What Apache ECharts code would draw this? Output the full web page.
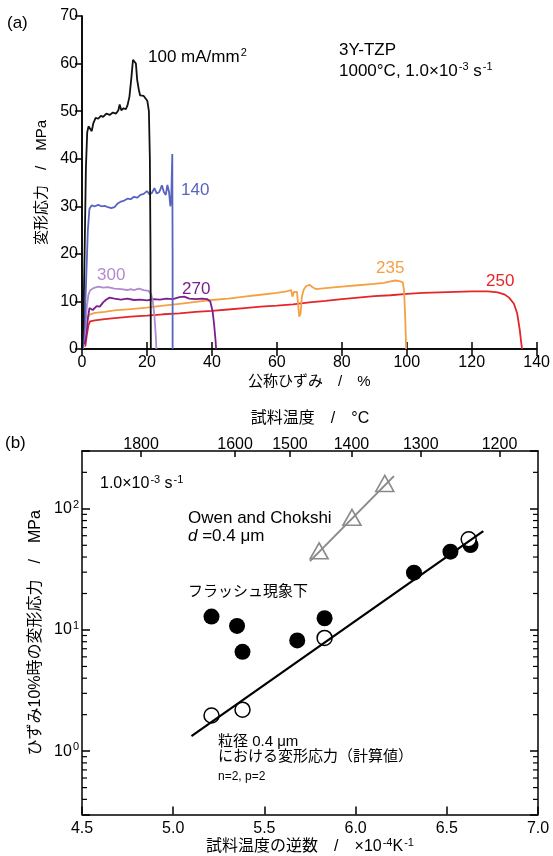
<!DOCTYPE html>
<html>
<head>
<meta charset="utf-8">
<script src="https://cdn.jsdelivr.net/npm/echarts@6/dist/echarts.min.js"></script>
<style>
  html, body { margin: 0; padding: 0; background: #fff; }
  #chart { width: 553px; height: 856px; }
</style>
</head>
<body>
<div id="chart"></div>
<script>
const FONT = '"Liberation Sans", "Noto Sans CJK JP", sans-serif';

// (a) stress-strain curves: [nominal strain %, flow stress MPa]
const curve100 = [[0,0],[0.4,5],[0.8,20],[1.2,38],[1.6,45.5],[2.0,46.8],[2.6,47],[3.0,45.8],[3.5,47.5],[4.2,48.6],[5,48.4],[5.8,49],[6.5,48.8],[7.5,49.5],[8.5,49.2],[9.5,49.7],[10.5,49.5],[11.2,50.2],[11.6,51.4],[12.1,50.2],[12.8,50.6],[13.5,50.4],[14.0,51.2],[14.6,53],[15.2,57],[15.7,60.8],[16.1,61.2],[16.6,60],[17.0,56.5],[17.5,54.5],[17.9,53.3],[18.4,53.6],[19.0,53.2],[19.6,53],[20.1,52.2],[20.6,50],[20.9,40],[21.1,20],[21.2,0]];
const curve140 = [[0.3,0],[0.8,5],[1.3,15],[1.8,25],[2.3,29.5],[3,30.2],[4,30],[5,30.3],[6,30],[7,30.1],[8,29.8],[9,29.6],[10,29.8],[11,30.6],[12,31],[13,31.2],[14,31.6],[15,31.5],[16,32],[17,31.8],[18,32.4],[19,32.6],[20,33.2],[20.8,32.5],[21.5,32.8],[22.3,33.8],[23,32.7],[23.8,33],[24.6,34.4],[25.2,33],[25.8,32.4],[26.3,34.5],[26.8,33],[27.2,30],[27.5,32],[27.8,41],[27.9,20],[27.9,0]];
const curve300 = [[0,1.5],[0.6,2],[1,4],[1.5,9],[2,11.5],[2.5,12.3],[3.5,12.8],[5,13.1],[6.5,12.9],[8,13],[10,12.7],[12,12.6],[14,12.4],[15,12.6],[16,12.4],[17.5,12.7],[19,12.4],[20.5,12.2],[21.3,11.5],[21.8,10],[22.3,7],[22.7,3],[22.9,0]];
const curve270 = [[0.8,1],[1.3,3],[1.8,6.5],[2.3,8.6],[2.8,8.9],[3.3,8.2],[3.8,8.5],[4.5,9],[5.5,8.9],[6.5,9.8],[7.5,10.4],[8.5,10.8],[10,10.6],[12,10.4],[14,10.6],[16,10.3],[18,10.4],[20,10.2],[22,10.5],[24,10.4],[26,10.6],[28,10.5],[30,10.9],[31.5,11],[33,10.6],[35,10.5],[37,10.6],[38.5,10.5],[39.5,10],[40.2,8],[40.7,5],[41.1,2],[41.3,0]];
const curve235 = [[0.5,0.5],[1,3],[1.5,5.5],[2,6.8],[2.5,7.3],[4,7.6],[7,7.8],[10,8.1],[15,8.4],[20,8.7],[25,9.1],[30,9.5],[35,9.9],[40,10.3],[45,10.6],[50,11],[55,11.4],[60,11.8],[63,12.1],[64.4,12.4],[64.8,11],[65.3,12],[66.2,12],[66.6,9],[66.9,6.8],[67.3,7.5],[67.7,11],[68.3,12.5],[69,13.2],[70,13.5],[71,13],[72,12.6],[75,12.8],[80,13.1],[85,13.4],[90,13.7],[93,13.9],[95,14.2],[96.5,14.4],[98,14.2],[98.8,14],[99.2,12],[99.5,7],[99.7,3],[99.8,0]];
const curve250 = [[1,0.5],[1.5,3],[2,5],[2.5,5.8],[4,6],[7,6.3],[10,6.5],[15,6.8],[20,7],[25,7.3],[30,7.5],[35,7.8],[40,8],[45,8.3],[50,8.6],[55,8.9],[60,9.1],[65,9.4],[70,9.8],[75,10.1],[80,10.5],[85,10.8],[90,11.1],[95,11.3],[100,11.6],[105,11.8],[110,11.9],[115,12],[120,12.1],[125,12.1],[128,11.9],[130,11.5],[131.5,10.8],[133,9.5],[134,7.5],[134.8,4],[135.3,1],[135.5,0]];

// (b) stress at 10% strain vs inverse temperature (x: 1e4/T [1/K], y: MPa)
const flashX = [5.21, 5.35, 5.38, 5.68, 5.83, 6.32, 6.52, 6.63];
const flashY = [12.9, 10.8, 6.6, 8.2, 12.5, 29.7, 44.3, 50.3];
const calcX = [5.21, 5.38, 5.83, 6.62];
const calcY = [1.97, 2.2, 8.6, 56];
const calcLineX = [5.10, 6.70];
const calcLineY = [1.33, 65.5];
const owenX = [5.80, 5.98, 6.16];
const owenY = [45, 85, 162];
const owenLineX = [5.75, 6.21];
const owenLineY = [37, 186];
const tempTicks = [1800, 1600, 1500, 1400, 1300, 1200];
const logMinor = [0.4, 0.5, 0.6, 0.7, 0.8, 0.9, 2, 3, 4, 5, 6, 7, 8, 9, 20, 30, 40, 50, 60, 70, 80, 90, 200];

const zip = (xs, ys) => xs.map((x, i) => [x, ys[i]]);
const supRich = {
  s: { fontSize: 11, fontFamily: FONT, verticalAlign: 'bottom', padding: [0, 0, 8, 1] },
  i: { fontStyle: 'italic', fontSize: 17, fontFamily: FONT }
};

const chart = echarts.init(document.getElementById('chart'));

const frame = { show: true, lineStyle: { color: '#000', width: 1.5 } };
const label = { color: '#000', fontSize: 16, fontFamily: FONT };
const nameStyle = { color: '#000', fontSize: 15, fontFamily: FONT };
const nameStyleB = { color: '#000', fontSize: 16, fontFamily: FONT };

function curve(data, color) {
  return {
    type: 'line', xAxisIndex: 0, yAxisIndex: 0, data: data,
    showSymbol: false, symbol: 'none', silent: true,
    lineStyle: { color: color, width: 1.8 }
  };
}

function txt(x, y, text, color, size) {
  return {
    type: 'text', x: x, y: y, silent: true,
    style: {
      text: text, fill: color || '#000', fontSize: size || 17, fontFamily: FONT,
      verticalAlign: 'middle', rich: supRich
    }
  };
}

const option = {
  backgroundColor: '#fff',
  animation: false,
  grid: [
    { left: 82, right: 15, top: 16, height: 333 },
    { left: 82, right: 15, top: 451, height: 364 }
  ],
  xAxis: [
    {
      gridIndex: 0, type: 'value', min: 0, max: 140, interval: 20, position: 'bottom',
      axisLine: frame, axisTick: { inside: true, length: 7, lineStyle: { width: 1.5 } },
      axisLabel: Object.assign({ margin: 6 }, label), splitLine: { show: false },
      name: '公称ひずみ　/　%', nameLocation: 'middle', nameGap: 25, nameTextStyle: nameStyle
    },
    {
      gridIndex: 0, type: 'value', min: 0, max: 140, interval: 20, position: 'top',
      axisLine: frame, axisTick: { inside: true, length: 7, lineStyle: { width: 1.5 } },
      axisLabel: { show: false }, splitLine: { show: false }
    },
    {
      gridIndex: 1, type: 'value', min: 4.5, max: 7.0, interval: 0.5, position: 'bottom',
      axisLine: frame, axisTick: { inside: true, length: 8, lineStyle: { width: 1.5 } },
      axisLabel: Object.assign({ margin: 6, formatter: v => v.toFixed(1) }, label),
      splitLine: { show: false },
      name: '試料温度の逆数　/　×10{s|-4}K{s|-1}', nameLocation: 'middle', nameGap: 23,
      nameTextStyle: Object.assign({ rich: supRich }, nameStyleB)
    },
    {
      gridIndex: 1, type: 'value', min: 4.5, max: 7.0, position: 'top',
      axisLine: frame,
      axisTick: { inside: true, length: 6, lineStyle: { width: 1.5 },
        customValues: tempTicks.map(t => 1e4 / (t + 273)) },
      axisLabel: Object.assign({ margin: -2,
        customValues: tempTicks.map(t => 1e4 / (t + 273)),
        formatter: v => String(Math.round(1e4 / v - 273)) }, label),
      splitLine: { show: false },
      name: '試料温度　/　°C', nameLocation: 'middle', nameGap: 24, nameTextStyle: nameStyleB
    }
  ],
  yAxis: [
    {
      gridIndex: 0, type: 'value', min: 0, max: 70, interval: 10,
      axisLine: frame, axisTick: { inside: false, length: 5, lineStyle: { width: 1.5 } },
      axisLabel: Object.assign({ margin: 4 }, label), splitLine: { show: false },
      name: '変形応力　/　MPa', nameLocation: 'middle', nameRotate: 90, nameGap: 29,
      nameTextStyle: nameStyle
    },
    {
      gridIndex: 0, type: 'value', min: 0, max: 70, interval: 10, position: 'right',
      axisLine: frame, axisTick: { inside: true, length: 7, lineStyle: { width: 1.5 } },
      axisLabel: { show: false }, splitLine: { show: false }
    },
    {
      gridIndex: 1, type: 'log', logBase: 10, min: 0.3, max: 300,
      axisLine: frame, axisTick: { inside: true, length: 8, lineStyle: { width: 1.5 } },
      axisLabel: Object.assign({ margin: 3, rich: supRich, formatter: v => {
        const e = Math.round(Math.log10(v));
        return Math.abs(Math.log10(v) - e) < 1e-6 ? '10{s|' + e + '}' : '';
      } }, label),
      splitLine: { show: false },
      name: 'ひずみ10%時の変形応力　/　MPa', nameLocation: 'middle', nameRotate: 90, nameGap: 34,
      nameTextStyle: nameStyleB
    },
    {
      gridIndex: 1, type: 'log', logBase: 10, min: 0.3, max: 300, position: 'right',
      axisLine: frame, axisTick: { inside: true, length: 8, lineStyle: { width: 1.5 } },
      axisLabel: { show: false }, splitLine: { show: false }
    }
  ],
  series: [
    curve(curve250, '#e3262a'),
    curve(curve235, '#f5a043'),
    curve(curve270, '#7b1f8e'),
    curve(curve300, '#b28ad0'),
    curve(curve140, '#5865c0'),
    curve(curve100, '#111'),
    {
      // minor log ticks on both sides of panel (b)
      type: 'custom', xAxisIndex: 2, yAxisIndex: 2, silent: true, clip: false,
      data: logMinor.map(v => [4.5, v]),
      renderItem: (params, api) => {
        const l = api.coord([4.5, api.value(1)]);
        const r = api.coord([7.0, api.value(1)]);
        const st = { stroke: '#000', lineWidth: 1.2 };
        return { type: 'group', children: [
          { type: 'line', shape: { x1: l[0], y1: l[1], x2: l[0] + 5, y2: l[1] }, style: st },
          { type: 'line', shape: { x1: r[0], y1: r[1], x2: r[0] - 5, y2: r[1] }, style: st }
        ] };
      }
    },
    {
      type: 'line', xAxisIndex: 2, yAxisIndex: 2, data: zip(owenLineX, owenLineY),
      symbol: 'none', silent: true, lineStyle: { color: '#8a8a8a', width: 2 }
    },
    {
      type: 'line', xAxisIndex: 2, yAxisIndex: 2, data: zip(calcLineX, calcLineY),
      symbol: 'none', silent: true, lineStyle: { color: '#000', width: 2.2 }
    },
    {
      type: 'scatter', xAxisIndex: 2, yAxisIndex: 2, data: zip(owenX, owenY),
      symbol: 'triangle', symbolSize: [18, 16], silent: true,
      itemStyle: { color: '#fff', borderColor: '#8a8a8a', borderWidth: 1.6, opacity: 1 }
    },
    {
      type: 'scatter', xAxisIndex: 2, yAxisIndex: 2, data: zip(flashX, flashY),
      symbol: 'circle', symbolSize: 16, silent: true, itemStyle: { color: '#000', opacity: 1 }
    },
    {
      type: 'scatter', xAxisIndex: 2, yAxisIndex: 2, data: zip(calcX, calcY),
      symbol: 'circle', symbolSize: 15, silent: true,
      itemStyle: { color: '#fff', borderColor: '#000', borderWidth: 1.5, opacity: 1 }
    }
  ],
  graphic: [
    txt(7, 23, '(a)', '#000', 17),
    txt(5, 443, '(b)', '#000', 17),
    txt(148, 57, '100 mA/mm{s|2}'),
    txt(181, 190, '140', '#5865c0'),
    txt(97, 275, '300', '#b28ad0'),
    txt(182, 289, '270', '#7b1f8e'),
    txt(376, 268, '235', '#f5a043'),
    txt(486, 281, '250', '#e3262a'),
    txt(339, 50, '3Y-TZP'),
    txt(339, 71, '1000°C, 1.0×10{s|-3} s{s|-1}'),
    txt(100, 484, '1.0×10{s|-3} s{s|-1}', '#000', 16),
    txt(188, 518, 'Owen and Chokshi'),
    txt(188, 536, '{i|d} =0.4 μm'),
    txt(188, 592, 'フラッシュ現象下', '#000', 15),
    txt(218, 742, '粒径 0.4 μm', '#000', 15),
    txt(218, 757, 'における変形応力（計算値）', '#000', 15),
    txt(218, 777, 'n=2, p=2', '#000', 12)
  ]
};

chart.setOption(option);
</script>
</body>
</html>
